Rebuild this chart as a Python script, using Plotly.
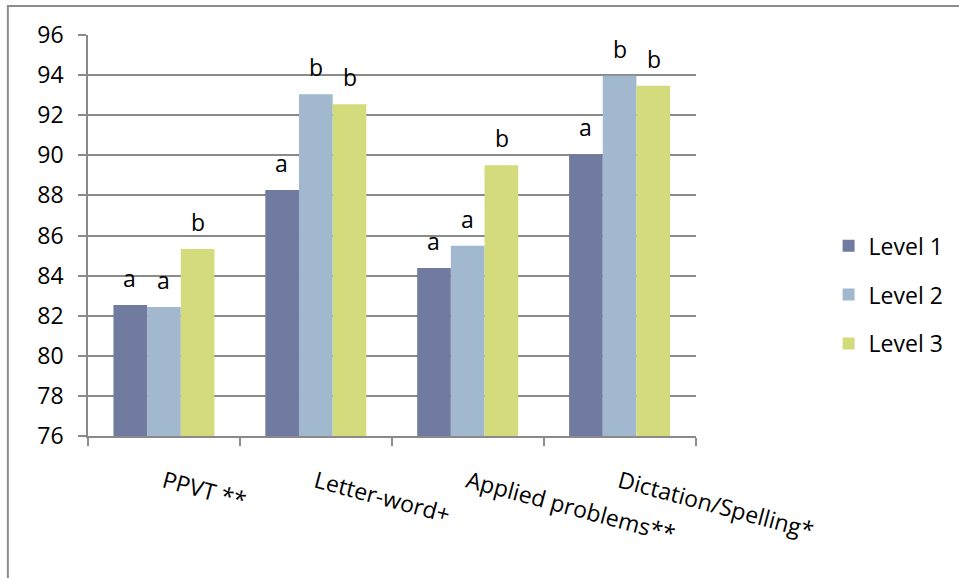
import plotly.graph_objects as go

categories = ["PPVT **", "Letter-word+", "Applied problems**", "Dictation/Spelling*"]
series_names = ["Level 1", "Level 2", "Level 3"]
level1 = [82.53, 88.27, 84.38, 90.05]
level2 = [82.43, 93.04, 85.49, 93.97]
level3 = [85.33, 92.54, 89.50, 93.47]
letters1 = ["a", "a", "a", "a"]
letters2 = ["a", "b", "a", "b"]
letters3 = ["b", "b", "b", "b"]
y_ticks = [76, 78, 80, 82, 84, 86, 88, 90, 92, 94, 96]

colors = ["#717BA0", "#A1B8CE", "#D4DB7C"]
font_family = "Open Sans"
font_size = 23
grid_color = "#8A8A8A"

values = [level1, level2, level3]
letters = [letters1, letters2, letters3]

fig = go.Figure()
for i, (name, vals) in enumerate(zip(series_names, values)):
    fig.add_trace(go.Bar(
        x=categories, y=vals, name=name,
        marker=dict(color=colors[i], line=dict(width=0)),
        legendgroup=name,
    ))

# significance letters above each bar
bar_px = 34
annotations = []
for i, (vals, labs) in enumerate(zip(values, letters)):
    for cat, v, lab in zip(categories, vals, labs):
        annotations.append(dict(
            x=cat, y=v, text=lab, showarrow=False,
            xshift=(i - 1) * bar_px, yshift=9, yanchor="bottom",
            font=dict(family=font_family, size=font_size, color="black"),
        ))

fig.update_layout(
    width=959, height=578,
    margin=dict(l=88, r=257, t=35, b=142),
    paper_bgcolor="white", plot_bgcolor="white",
    barmode="group", bargap=0.335, bargroupgap=0,
    font=dict(family=font_family, size=font_size, color="black"),
    annotations=annotations,
    legend=dict(
        xref="container", yref="container",
        x=0.864, y=0.612, xanchor="left", yanchor="top",
        font=dict(family=font_family, size=font_size, color="black"),
        tracegroupgap=16, bgcolor="rgba(0,0,0,0)",
    ),
    shapes=[dict(
        type="rect", xref="paper", yref="paper",
        x0=(7 - 88) / 614, x1=1.6, y0=(436 - 6) / 401, y1=-0.5,
        line=dict(color="#8C8C8C", width=2), fillcolor="rgba(0,0,0,0)",
        layer="below",
    )],
)

fig.update_yaxes(
    range=[76, 96], tickvals=y_ticks, showgrid=True,
    gridcolor=grid_color, gridwidth=1.5,
    showline=True, linecolor=grid_color, linewidth=1.5,
    ticks="outside", ticklen=8, tickcolor=grid_color, tickwidth=1.5,
    ticklabelstandoff=10, zeroline=False,
)
fig.update_xaxes(
    showline=True, linecolor=grid_color, linewidth=1.5,
    ticks="outside", ticklen=8, tickcolor=grid_color, tickwidth=1.5,
    tickson="boundaries", tickangle=15, ticklabelstandoff=22,
    showgrid=False,
)

fig.write_html("out.html")
